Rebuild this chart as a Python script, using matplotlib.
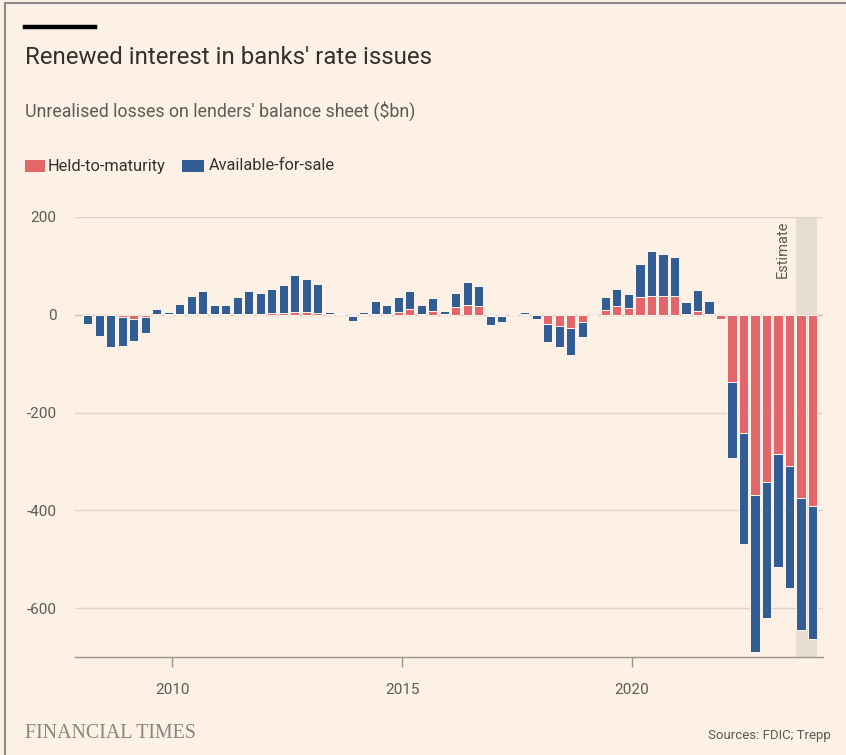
import matplotlib
matplotlib.use("Agg")
import matplotlib.pyplot as plt
from matplotlib.patches import Rectangle
from matplotlib.lines import Line2D

# --- Data: unrealised losses, $bn, quarterly 2008Q1-2023Q4 ---
quarters = [f"{y}Q{q}" for y in range(2008, 2024) for q in range(1, 5)]

held_to_maturity = [
    -1, -1, -1, -4, -9, -4, 1, 1,
    1, 1, 1, 1, 1, 1, 2, 2,
    3, 3, 5, 5, 3, 2, 2, -3,
    2, 2, 2, 6, 12, 2, 7, 2,
    15, 20, 18, -2, -2, 1, 2, -1,
    -19, -22, -28, -14, -2, 9, 18, 14,
    36, 39, 38, 38, 2, 8, 2, -8,
    -138, -242, -368, -343, -285, -310, -374, -392,
]
available_for_sale = [
    -18, -43, -64, -59, -44, -33, 11, 4,
    21, 38, 47, 19, 18, 35, 47, 43,
    50, 58, 77, 69, 60, 3, 2, -10,
    3, 27, 19, 30, 36, 18, 27, 6,
    30, 47, 41, -18, -13, 0, 3, -7,
    -36, -43, -55, -32, 0, 27, 35, 29,
    68, 91, 86, 81, 25, 43, 27, 0,
    -155, -227, -322, -277, -230, -248, -270, -271,
]
estimate_quarters = ["2023Q3", "2023Q4"]
year_ticks = [2010, 2015, 2020]
y_ticks = [200, 0, -200, -400, -600]

# --- Style ---
BG = "#fdf0e5"
PINK = "#e3666b"
BLUE = "#325c94"
GRID = "#ddd3ca"
TEXT_DARK = "#33302e"
TEXT_MID = "#5f5a56"
plt.rcParams["font.family"] = ["Roboto", "DejaVu Sans"]


def quarter_pos(label):
    year, q = label.split("Q")
    return int(year) + (int(q) - 1) * 0.25 + 0.17


def plot_losses():
    fig = plt.figure(figsize=(8.46, 7.55), dpi=100, facecolor=BG)
    ax = fig.add_axes([74.5 / 846, 1 - 657 / 755, (823 - 74.5) / 846, (657 - 217) / 755])
    ax.set_facecolor(BG)

    xs = [quarter_pos(q) for q in quarters]
    width = 0.2

    # estimate shading behind the bars
    ax.axvspan(quarter_pos(estimate_quarters[0]) - 0.105,
               quarter_pos(estimate_quarters[-1]) + 0.11,
               color="#e7ddd3", zorder=0, lw=0)
    ax.text(quarter_pos(estimate_quarters[0]) - 0.4, 193, "Estimate", rotation=90,
            ha="center", va="top", fontsize=10.5, color=TEXT_MID)

    for v in y_ticks:
        ax.axhline(v, color=GRID if v != 0 else "#cfc5bb", lw=1, zorder=1)

    ax.bar(xs, held_to_maturity, width=width, color=PINK, edgecolor="#fff6ee",
           linewidth=0.7, zorder=3)
    ax.bar(xs, available_for_sale, width=width, bottom=held_to_maturity, color=BLUE,
           edgecolor="#fff6ee", linewidth=0.7, zorder=3)

    ax.set_xlim(2007.88, 2024.15)
    ax.set_ylim(-700, 200)
    ax.set_yticks(y_ticks)
    ax.set_yticklabels([str(v) for v in y_ticks])
    ax.set_xticks(year_ticks)
    ax.set_xticklabels([str(y) for y in year_ticks])
    ax.tick_params(axis="y", length=0, pad=13, labelsize=11, labelcolor=TEXT_MID)
    ax.tick_params(axis="x", length=7, width=1, color="#9b948e", pad=12,
                   labelsize=11, labelcolor=TEXT_MID)
    for side in ["top", "right", "left"]:
        ax.spines[side].set_visible(False)
    ax.spines["bottom"].set_color("#9b948e")
    ax.spines["bottom"].set_linewidth(1)
    ax.spines["bottom"].set_zorder(4)

    # header
    fig.add_artist(Line2D([25 / 846, 95 / 846], [1 - 27 / 755, 1 - 27 / 755],
                          color="black", lw=3.2))
    fig.text(25 / 846, 1 - 58 / 755, "Renewed interest in banks' rate issues",
             fontsize=17.3, color=TEXT_DARK, va="center", ha="left")
    fig.text(25 / 846, 1 - 111 / 755, "Unrealised losses on lenders' balance sheet ($bn)",
             fontsize=12.8, color=TEXT_MID, va="center", ha="left")

    # legend
    fig.add_artist(Rectangle((25 / 846, 1 - 172 / 755), 20 / 846, 12 / 755,
                             facecolor=PINK, lw=0, transform=fig.transFigure))
    fig.text(48 / 846, 1 - 166 / 755, "Held-to-maturity", fontsize=11.8,
             color=TEXT_DARK, va="center", ha="left")
    fig.add_artist(Rectangle((182 / 846, 1 - 172 / 755), 22 / 846, 12 / 755,
                             facecolor=BLUE, lw=0, transform=fig.transFigure))
    fig.text(209 / 846, 1 - 166 / 755, "Available-for-sale", fontsize=11.8,
             color=TEXT_DARK, va="center", ha="left")

    # footer
    fig.text(25 / 846, 1 - 734 / 755, "FINANCIAL TIMES", fontsize=14.3,
             family="Liberation Serif", color="#8a847f", va="center", ha="left")
    fig.text(831 / 846, 1 - 736 / 755, "Sources: FDIC; Trepp", fontsize=9.5,
             color=TEXT_MID, va="center", ha="right")

    # frame edges
    fig.add_artist(Line2D([5 / 846, 5 / 846], [0, 1 - 3 / 755], color="#8c8c8c", lw=1.5))
    fig.add_artist(Line2D([5 / 846, 1], [1 - 3 / 755, 1 - 3 / 755], color="#8c8c8c", lw=1.5))

    fig.savefig("out.png", dpi=100, facecolor=BG)


if __name__ == "__main__":
    plot_losses()
